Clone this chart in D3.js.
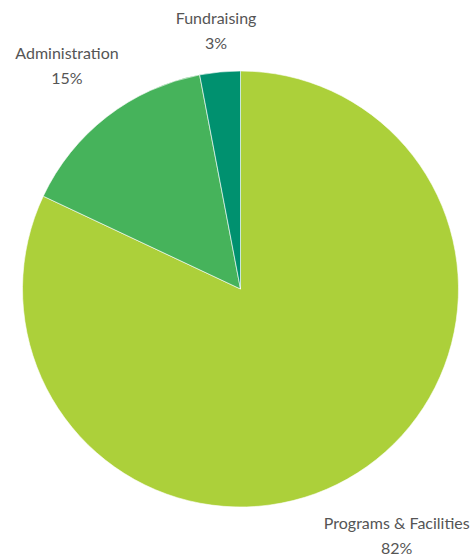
<!DOCTYPE html>
<html>
<head>
<meta charset="utf-8">
<script src="https://cdn.jsdelivr.net/npm/d3@7"></script>
<style>
  body { margin: 0; background: #fff; }
</style>
</head>
<body>
<div id="chart"></div>
<script>
// DATA

const categories = ["Programs & Facilities", "Administration", "Fundraising"];
const shares = [82, 15, 3];
const colors = ["#acd03a", "#46b35b", "#00916f"];

// SETUP

const width = 471, height = 554;
const cx = 240.5, cy = 289, radius = 218;
const gap = 16;

const svg = d3.select("#chart")
  .append("svg")
  .attr("width", width)
  .attr("height", height);

const data = categories.map((c, i) => ({ name: c, value: shares[i], color: colors[i] }));

const pie = d3.pie().sort(null).value(d => d.value);
const arc = d3.arc().innerRadius(0).outerRadius(radius);

const g = svg.append("g").attr("transform", `translate(${cx},${cy})`);

// SLICES

g.selectAll("path.slice")
  .data(pie(data))
  .join("path")
  .attr("class", "slice")
  .attr("d", arc)
  .attr("fill", d => d.data.color)
  .attr("stroke", "#ffffff")
  .attr("stroke-width", 0.6);

// LABELS - placed outside, box pushed off along the mid angle

pie(data).forEach(d => {
  const mid = (d.startAngle + d.endAngle) / 2;
  const sx = Math.sin(mid), sy = -Math.cos(mid);

  const t = g.append("text")
    .style("font-family", "Lato, sans-serif")
    .style("font-size", "16px")
    .style("fill", "#555555")
    .attr("text-anchor", "middle");

  t.append("tspan").attr("x", 0).attr("dy", 0).text(d.data.name);
  t.append("tspan").attr("x", 0).attr("dy", 25).text(d.data.value + "%");

  const bb = t.node().getBBox();
  const half = Math.abs(sx) * bb.width / 2 + Math.abs(sy) * bb.height / 2;
  const dist = radius + gap + half;
  const px = sx * dist, py = sy * dist;
  // shift so the box centre sits at (px, py)
  const bcx = bb.x + bb.width / 2, bcy = bb.y + bb.height / 2;
  t.attr("transform", `translate(${px - bcx},${py - bcy})`);
});
</script>
</body>
</html>
